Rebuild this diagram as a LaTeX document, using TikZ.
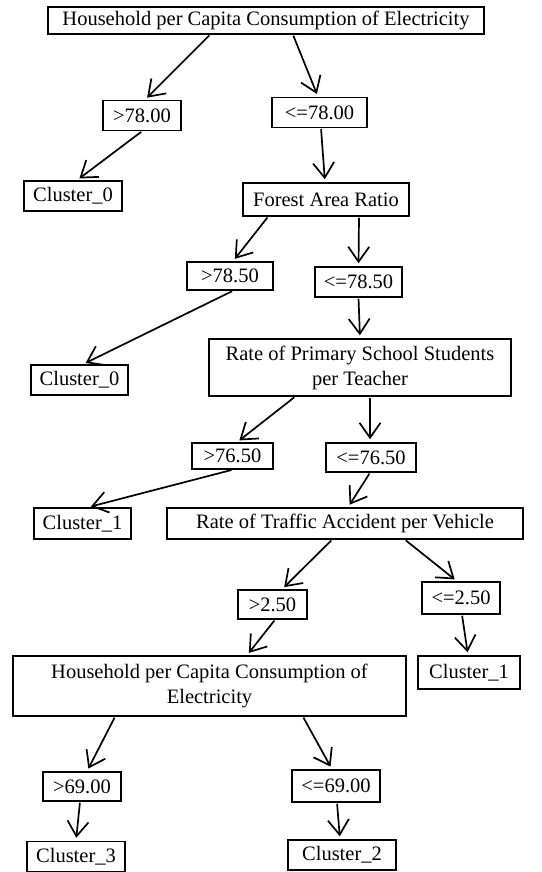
\documentclass[tikz,border=0pt]{standalone}
\usepackage{fontspec}
\setmainfont{Liberation Serif}
\usetikzlibrary{arrows.meta}

\begin{document}
\begin{tikzpicture}[x=1pt, y=-1pt, line width=1.5pt,
    box/.style={draw=black, rectangle, inner sep=0pt, minimum width=#1, minimum height=30pt, align=center, font=\fontsize{20.5}{25}\selectfont},
    split/.style={line width=1.7pt, -{Straight Barb[length=15pt, width=21pt]}, shorten <=1pt, shorten >=3pt}]

        % Page frame (pixel units, y going down)
        \useasboundingbox (0, 0) rectangle (541, 872);

        % Root split
        \node[box=436pt, minimum height=27pt] (root) at (266, 20.5) {Household per Capita Consumption of Electricity};
        \node[box=78pt] (gt78) at (142, 115.5) {>78.00};
        \node[box=95pt] (le78) at (319.5, 112.5) {<=78.00};
        \node[box=98pt] (clA) at (73, 196) {Cluster\_0};

        % Forest area split
        \node[box=166pt, minimum height=33pt] (forest) at (326, 199.5) {Forest Area Ratio};
        \node[box=86pt, minimum height=28pt] (gt785) at (230, 276) {>78.50};
        \node[box=87pt] (le785) at (358.5, 282) {<=78.50};
        \node[box=97pt] (clB) at (79.5, 380) {Cluster\_0};

        % Students per teacher split
        \node[box=302pt, minimum height=57pt] (pupil) at (360, 367.5) {Rate of Primary School Students\\per Teacher};
        \node[box=81pt, minimum height=26pt] (gt765) at (232.5, 456) {>76.50};
        \node[box=90pt, minimum height=29pt] (le765) at (371, 457.5) {<=76.50};
        \node[box=97pt, minimum height=31pt] (clC) at (82.5, 523.5) {Cluster\_1};

        % Traffic accident split
        \node[box=356pt, minimum height=31pt] (traffic) at (345, 523.5) {Rate of Traffic Accident per Vehicle};
        \node[box=69pt, minimum height=29pt] (gt25) at (272.5, 604.5) {>2.50};
        \node[box=78pt, minimum height=32pt] (le25) at (461, 598) {<=2.50};
        \node[box=102pt, minimum height=33pt] (clD) at (469, 672.5) {Cluster\_1};

        % Second electricity split
        \node[box=393pt, minimum height=60pt] (power) at (209.5, 686) {Household per Capita Consumption of\\Electricity};
        \node[box=78pt, minimum height=29pt] (gt69) at (82, 786.5) {>69.00};
        \node[box=88pt, minimum height=32pt] (le69) at (336, 786) {<=69.00};
        \node[box=98pt] (clE) at (76, 856.5) {Cluster\_3};
        \node[box=108pt] (clF) at (342, 855) {Cluster\_2};

        % Branches
        \draw[split] ([xshift=-56pt]root.south) -- ([xshift=3pt]gt78.north);
        \draw[split] ([xshift=27pt]root.south) -- ([xshift=-1.5pt]le78.north);
        \draw[split] (gt78.south) -- ([xshift=4pt]clA.north);
        \draw[split] ([xshift=1.5pt]le78.south) -- ([xshift=-1pt]forest.north);

        \draw[split] ([xshift=-58pt]forest.south) -- ([xshift=3pt]gt785.north);
        \draw[split] ([xshift=33pt]forest.south) -- (le785.north);
        \draw[split] ([xshift=3pt]gt785.south) -- ([xshift=3.5pt]clB.north);
        \draw[split] (le785.south) -- (pupil.north);

        \draw[split] ([xshift=-65pt]pupil.south) -- ([xshift=4.5pt]gt765.north);
        \draw[split] ([xshift=10pt]pupil.south) -- ([xshift=-1pt]le765.north);
        \draw[split] (gt765.south) -- ([xshift=5.5pt]clC.north);
        \draw[split] ([xshift=-1pt]le765.south) -- ([xshift=3pt]traffic.north);

        \draw[split] ([xshift=-13pt]traffic.south) -- ([xshift=9.5pt]gt25.north);
        \draw[split] ([xshift=60pt]traffic.south) -- ([xshift=-4pt]le25.north);
        \draw[split] ([xshift=2.5pt]gt25.south) -- ([xshift=37.5pt]power.north);
        \draw[split] ([xshift=1pt]le25.south) -- ([xshift=-1pt]clD.north);

        \draw[split] ([xshift=-94.5pt]power.south) -- ([xshift=5pt]gt69.north);
        \draw[split] ([xshift=93.5pt]power.south) -- ([xshift=-4pt]le69.north);
        \draw[split] ([xshift=-2pt]gt69.south) -- (clE.north);
        \draw[split] ([xshift=1pt]le69.south) -- ([xshift=-2pt]clF.north);

      \end{tikzpicture}
\end{document}
